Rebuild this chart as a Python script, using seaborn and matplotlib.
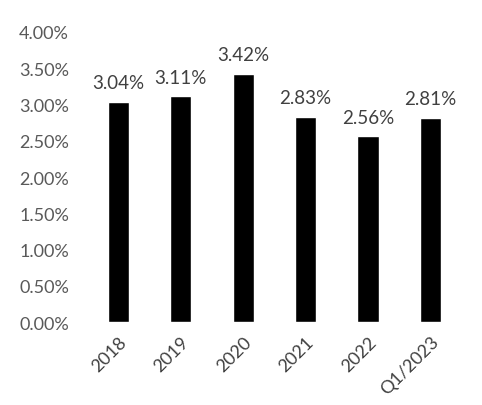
import matplotlib
matplotlib.use('Agg')
import matplotlib.pyplot as plt
import seaborn as sns
import pandas as pd

# ── Data ─────────────────────────────────────────────────────
periods = ['2018', '2019', '2020', '2021', '2022', 'Q1/2023']
rates = [3.04, 3.11, 3.42, 2.83, 2.56, 2.81]
y_ticks = [0.0, 0.5, 1.0, 1.5, 2.0, 2.5, 3.0, 3.5, 4.0]

df = pd.DataFrame({'Period': periods, 'Rate': rates})

# ── Plot ─────────────────────────────────────────────────────
sns.set_style('white')
plt.rcParams['font.family'] = ['Lato', 'DejaVu Sans']

fig = plt.figure(figsize=(4.82, 4.06), dpi=100)
ax = fig.add_axes([0.166, 0.204, 0.80, 0.715])

sns.barplot(data=df, x='Period', y='Rate', color='black', width=0.34,
            saturation=1, ax=ax)

for i, v in enumerate(rates):
    ax.text(i, v + 0.15, f'{v:.2f}%', ha='center', va='bottom',
            fontsize=13.5, color='#404040')

ax.set_ylim(0, 4.0)
ax.set_xlim(-0.61, 5.56)
ax.set_yticks(y_ticks)
ax.set_yticklabels([f'{t:.2f}%' for t in y_ticks], fontsize=13, color='#595959')
ax.set_xticks(range(len(periods)))
ax.set_xticklabels(periods, rotation=45, ha='right', rotation_mode='anchor',
                   fontsize=13, color='#404040')
ax.tick_params(axis='both', length=0, pad=8)
ax.set_xlabel('')
ax.set_ylabel('')
sns.despine(ax=ax, left=True, bottom=True)

plt.savefig('out.png', dpi=100)
